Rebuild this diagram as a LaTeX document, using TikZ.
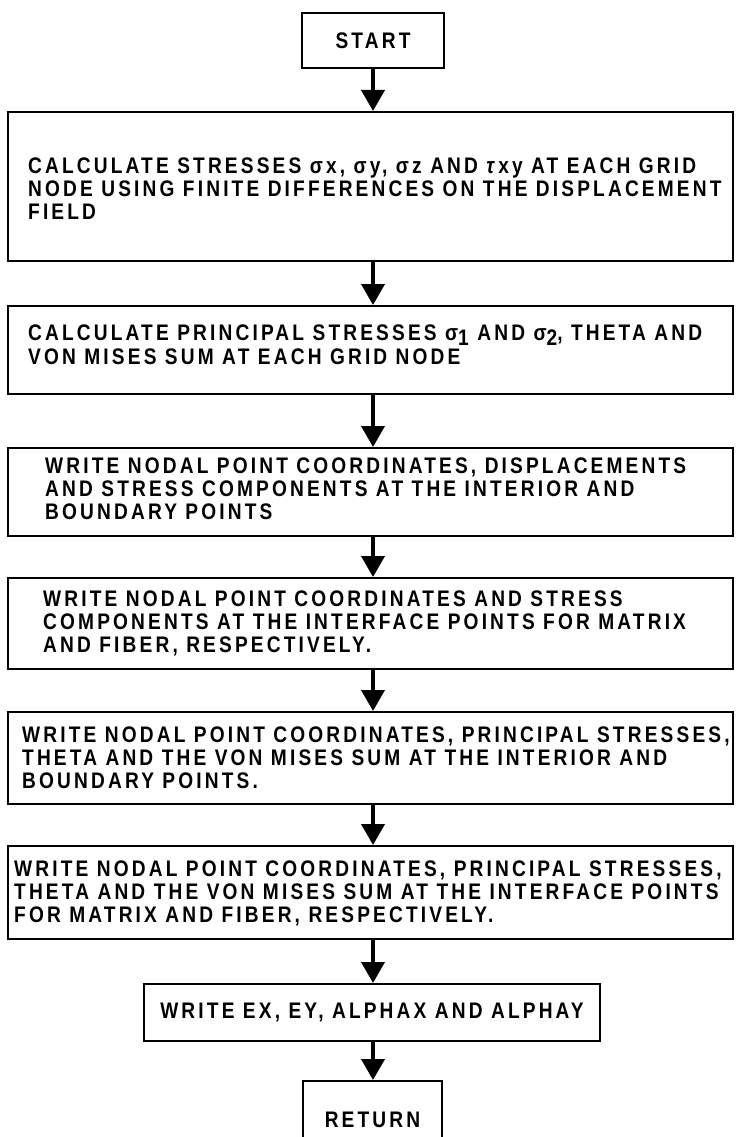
\documentclass[tikz,border=0pt]{standalone}
\usepackage{fontspec}
\setmainfont{Liberation Sans}[UprightFont=*-Bold, ItalicFont=*-Bold Italic, FakeStretch=0.85, LetterSpace=14]
\usetikzlibrary{arrows.meta}
\newcommand\lowsub[1]{\raisebox{-0.4ex}{#1}}
\begin{document}
\begin{tikzpicture}[x=1pt,y=-1pt,
  box/.style={draw, line width=2pt, rectangle, inner sep=0pt},
  txt/.style={anchor=north west, inner sep=0pt, align=left,
              font=\fontsize{22.5}{23}\selectfont},
  ctxt/.style={inner sep=0pt, font=\fontsize{22.5}{23}\selectfont},
  flow/.style={line width=4pt, -{Triangle[width=23pt,length=21pt]}}]
\useasboundingbox (0,0) rectangle (738,1137);
\clip (0,0) rectangle (738,1137);

% terminal and process boxes
\node[box, minimum width=142pt, minimum height=55pt] (start) at (373,40.5) {};
\node[ctxt] (starttxt) at (start.center) {START};

\node[box, minimum width=725pt, minimum height=149pt] (stress) at (370.5,186.5) {};
\node[txt] (stresstxt) at (28,158) {CALCULATE STRESSES σx, σy, σz AND \textit{τ}xy AT EACH GRID\\
NODE USING FINITE DIFFERENCES ON THE DISPLACEMENT\\
FIELD};

\node[box, minimum width=725pt, minimum height=88pt] (princ) at (370.5,350) {};
\node[txt] (princtxt) at (28,325) {CALCULATE PRINCIPAL STRESSES σ\lowsub{1} AND σ\lowsub{2}, THETA AND\\[1pt]
VON MISES SUM AT EACH GRID NODE};

\node[box, minimum width=725pt, minimum height=88pt] (wrinter) at (370.5,492) {};
\node[txt] (wrintertxt) at (45,458) {WRITE NODAL POINT COORDINATES, DISPLACEMENTS\\
AND STRESS COMPONENTS AT THE INTERIOR AND\\
BOUNDARY POINTS};

\node[box, minimum width=725pt, minimum height=91pt] (wrface) at (370.5,623.5) {};
\node[txt] (wrfacetxt) at (43,591) {WRITE NODAL POINT COORDINATES AND STRESS\\
COMPONENTS AT THE INTERFACE POINTS FOR MATRIX\\
AND FIBER, RESPECTIVELY.};

\node[box, minimum width=725pt, minimum height=92pt] (prinner) at (370.5,758) {};
\node[txt] (prinnertxt) at (22,727) {WRITE NODAL POINT COORDINATES, PRINCIPAL STRESSES,\\
THETA AND THE VON MISES SUM AT THE INTERIOR AND\\
BOUNDARY POINTS.};

\node[box, minimum width=725pt, minimum height=93pt] (prface) at (370.5,892.5) {};
\node[txt] (prfacetxt) at (14,861) {WRITE NODAL POINT COORDINATES, PRINCIPAL STRESSES,\\
THETA AND THE VON MISES SUM AT THE INTERFACE POINTS\\
FOR MATRIX AND FIBER, RESPECTIVELY.};

\node[box, minimum width=456pt, minimum height=57pt] (moduli) at (372,1012.5) {};
\node[ctxt] (modulitxt) at (moduli.center) {WRITE EX, EY, ALPHAX AND ALPHAY};

\node[box, minimum width=139pt, minimum height=78pt] (ret) at (372.5,1120) {};
\node[ctxt] (rettxt) at (ret.center) {RETURN};

% flow arrows along the common axis
\draw[flow] (start.south) -- (start.south |- stress.north);
\draw[flow] (start.south |- stress.south) -- (start.south |- princ.north);
\draw[flow] (start.south |- princ.south) -- (start.south |- wrinter.north);
\draw[flow] (start.south |- wrinter.south) -- (start.south |- wrface.north);
\draw[flow] (start.south |- wrface.south) -- (start.south |- prinner.north);
\draw[flow] (start.south |- prinner.south) -- (start.south |- prface.north);
\draw[flow] (start.south |- prface.south) -- (start.south |- moduli.north);
\draw[flow] (start.south |- moduli.south) -- (start.south |- ret.north);
\end{tikzpicture}
\end{document}
